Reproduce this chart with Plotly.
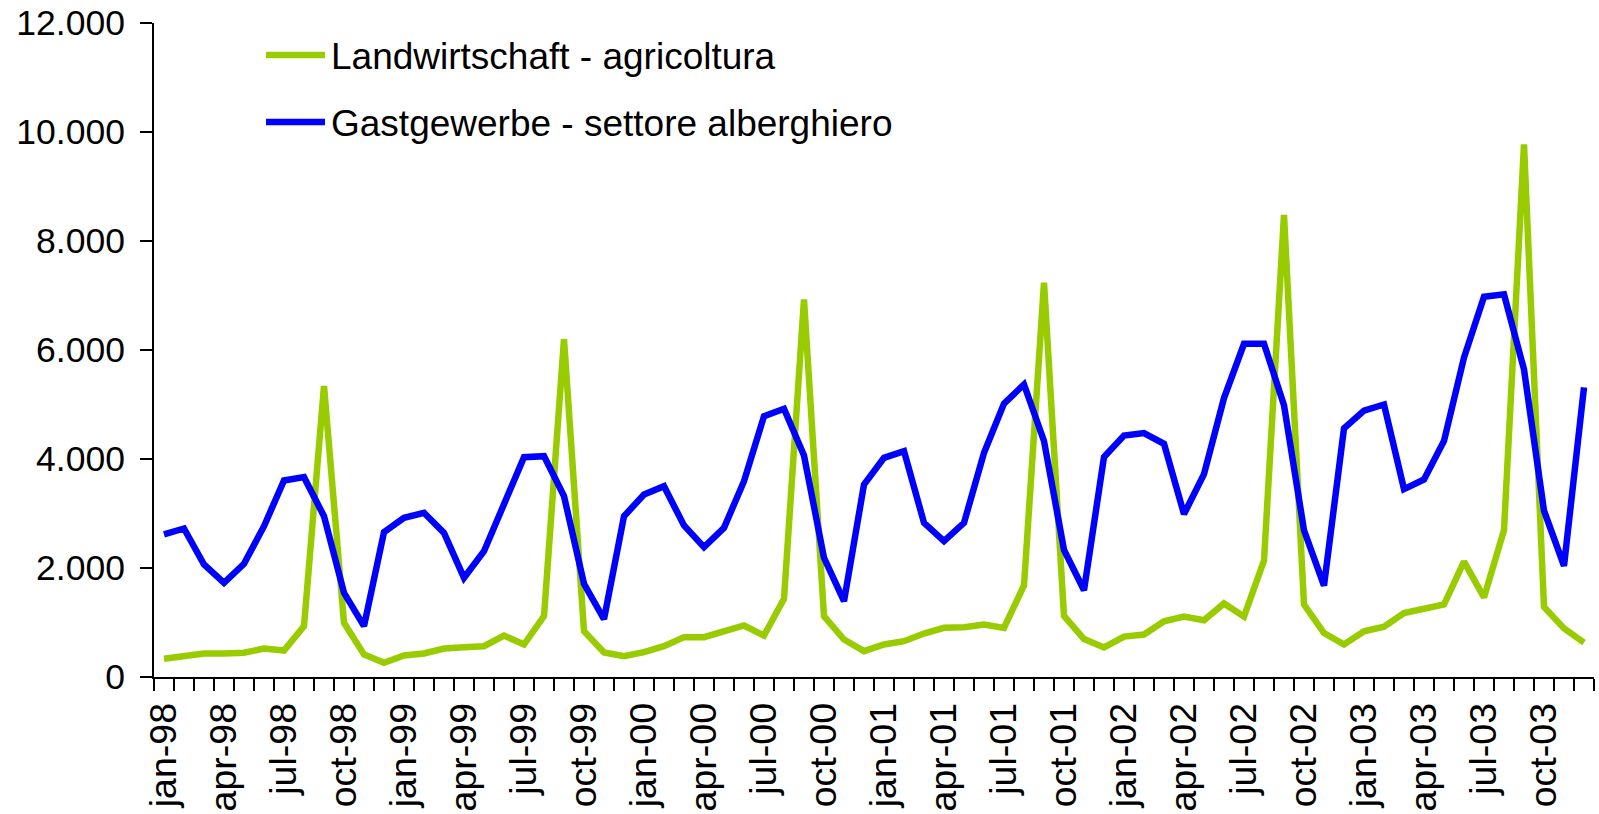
import plotly.graph_objects as go

months = ["jan", "feb", "mar", "apr", "may", "jun", "jul", "aug", "sep", "oct", "nov", "dec"]
years = ["98", "99", "00", "01", "02", "03"]
categories = [f"{m}-{y}" for y in years for m in months]

agricoltura = [334, 382, 431, 431, 444, 523, 486, 933, 5340, 994, 413, 260,
               394, 431, 523, 547, 565, 761, 596, 1116, 6200, 840, 450, 382,
               456, 565, 731, 731, 823, 945, 761, 1434, 6927, 1116, 688, 474,
               596, 657, 798, 902, 914, 963, 902, 1679, 7233, 1121, 695, 543,
               741, 780, 1022, 1108, 1042, 1350, 1108, 2136, 8480, 1330, 806, 596,
               839, 924, 1173, 1252, 1330, 2117, 1461, 2693, 9771, 1284, 892, 630]

alberghiero = [2615, 2725, 2064, 1728, 2077, 2767, 3606, 3667, 2950, 1545, 933, 2657,
               2921, 3013, 2645, 1820, 2309, 3165, 4033, 4052, 3318, 1710, 1060, 2950,
               3349, 3501, 2780, 2382, 2737, 3593, 4786, 4921, 4064, 2187, 1391, 3532,
               4022, 4143, 2829, 2492, 2829, 4113, 5018, 5367, 4330, 2332, 1593, 4037,
               4429, 4475, 4279, 2989, 3723, 5118, 6114, 6114, 4988, 2693, 1677, 4561,
               4888, 5000, 3448, 3624, 4332, 5862, 6976, 7022, 5642, 3053, 2039, 5314]

series_names = ["Landwirtschaft - agricoltura", "Gastgewerbe - settore alberghiero"]
colors = ["#99CC00", "#0000FF"]

x_idx = list(range(len(categories)))
tick_idx = x_idx[::3]
tick_text = categories[::3]

FONT = "Liberation Sans, Arial, sans-serif"

W, H = 1599, 814
L, T, R = 154, 23, 5
PW, PH = W - L - R, 654
B = H - T - PH

def px_to_paper(xs, ys):
    return (xs - L) / PW, (T + PH - ys) / PH

fig = go.Figure()
for name, vals, col in zip(series_names, [agricoltura, alberghiero], colors):
    fig.add_trace(go.Scatter(
        x=x_idx, y=vals, mode="lines", name=name,
        line=dict(color=col, width=6.5), showlegend=False,
        hovertext=categories,
    ))

# manual legend (lines + text)
legend_rows = [55, 122]
for name, col, yrow in zip(series_names, colors, legend_rows):
    x0, y0 = px_to_paper(266, yrow)
    x1, _ = px_to_paper(325, yrow)
    fig.add_shape(type="line", xref="paper", yref="paper", x0=x0, x1=x1, y0=y0, y1=y0,
                  line=dict(color=col, width=6.5))
    tx, ty = px_to_paper(329, yrow + 1)
    fig.add_annotation(xref="paper", yref="paper", x=tx, y=ty, text=name,
                       showarrow=False, xanchor="left", yanchor="middle",
                       font=dict(family=FONT, size=37, color="black"))

fig.update_layout(
    width=W, height=H,
    margin=dict(l=L, r=R, t=T, b=B, pad=0, autoexpand=False),
    paper_bgcolor="white", plot_bgcolor="white",
    separators=",.",
    font=dict(family=FONT, size=35.5, color="black"),
)
fig.update_xaxes(
    range=[-0.5, len(categories) - 0.5], automargin=False,
    tickmode="array", tickvals=tick_idx, ticktext=tick_text,
    tickangle=-90, ticks="", showgrid=False, zeroline=False,
    showline=True, linecolor="black", linewidth=2,
    tickfont=dict(family=FONT, size=37.5, color="black"),
    ticklabelstandoff=9, ticklabeloverflow="allow",
    minor=dict(ticks="outside", tick0=-0.5, dtick=1, ticklen=12, tickwidth=2,
               tickcolor="black", showgrid=False),
)
fig.update_yaxes(
    range=[0, 12000], tickmode="linear", tick0=0, dtick=2000, automargin=False,
    tickformat=",d", ticks="outside", ticklen=12, tickwidth=2, tickcolor="black",
    showgrid=False, zeroline=False, showline=True, linecolor="black", linewidth=2,
    tickfont=dict(family=FONT, size=35.5, color="black"),
    ticklabelstandoff=8, ticklabeloverflow="allow",
)

fig.write_html("out.html",
               config={"displayModeBar": False},
               post_script="document.body.style.margin='0';document.body.style.overflow='hidden';")
